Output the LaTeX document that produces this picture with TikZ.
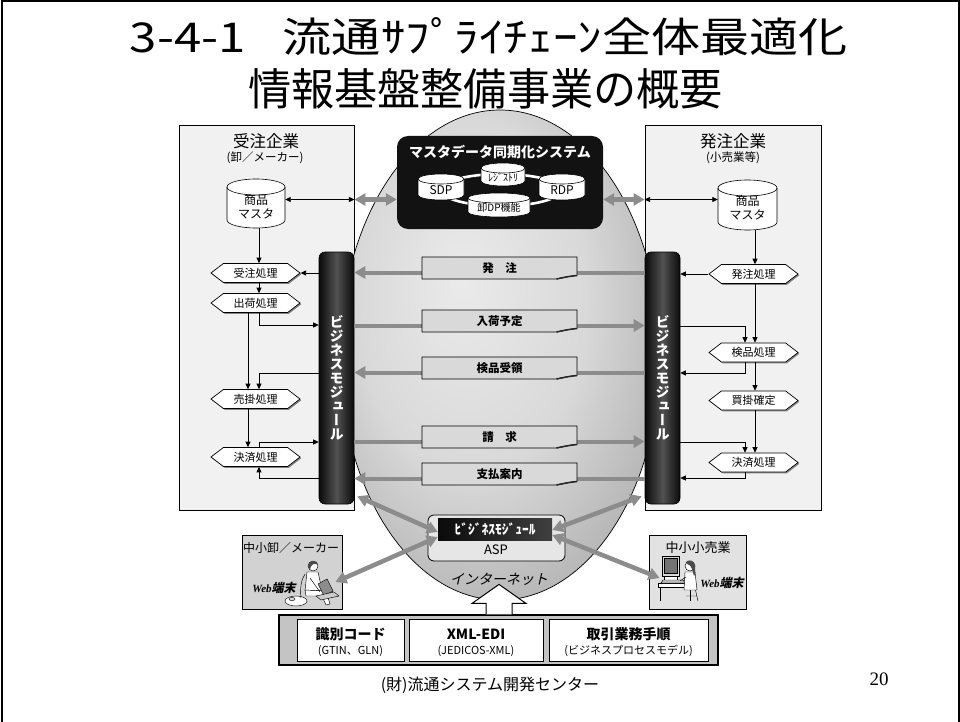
\documentclass[tikz,border=0pt]{standalone}
\usepackage{fontspec}
\usepackage{graphicx}
\setmainfont{Noto Sans CJK JP}
\newfontfamily\vertjp[RawFeature=+vert]{Noto Sans CJK JP}
\newfontfamily\slantjp[FakeSlant=0.22]{Noto Sans CJK JP}
\newfontfamily\serifrm{Liberation Serif}
\usetikzlibrary{arrows.meta,shapes.geometric,shapes.symbols,shadows,calc}

\definecolor{panelfill}{HTML}{F1F1F1}
\definecolor{msgfill}{HTML}{D9D9D9}
\definecolor{flowgray}{HTML}{8C8C8C}
\definecolor{aspfill}{HTML}{E6E6E6}
\definecolor{userfillA}{HTML}{D2D2D2}
\definecolor{userfillB}{HTML}{E2E2E2}
\definecolor{basefill}{HTML}{C4C4C4}

\newcommand{\fsz}[1]{\fontsize{#1}{#1}\selectfont}

% radial shading for the internet ellipse, light spot a little up and left
\pgfdeclareradialshading{netshade}{\pgfpoint{-6bp}{8bp}}{%
  color(0bp)=(black!8); color(18bp)=(black!15); color(40bp)=(black!38);
  color(52bp)=(black!52); color(70bp)=(black!56)}

\tikzset{
  panel/.style={draw=black, line width=0.9pt, fill=panelfill, inner sep=0pt},
  proc/.style={signal, signal to=west and east, signal pointer angle=75,
    draw=black, line width=0.7pt, fill=white, minimum width=89pt,
    minimum height=19pt, inner sep=0pt, font=\fsz{11},
    drop shadow={shadow xshift=1.3pt, shadow yshift=-1.3pt, fill=black, opacity=0.45}},
  flow/.style={draw=black, line width=0.8pt, -{Triangle[length=5.5pt,width=5pt]}},
  dflow/.style={draw=black, line width=0.8pt,
    {Triangle[length=5.5pt,width=5pt]}-{Triangle[length=5.5pt,width=5pt]}},
  grayto/.style={draw=flowgray, line width=4pt, -{Triangle[length=11pt,width=12pt]}},
  graydbl/.style={draw=flowgray, line width=4.5pt,
    {Triangle[length=11pt,width=12pt]}-{Triangle[length=11pt,width=12pt]}},
  modbar/.style={draw=black, line width=0.6pt, rounded corners=6pt,
    left color=black!96, right color=black!96, middle color=black!68,
    minimum width=35pt, minimum height=252pt, inner sep=0pt, text=white,
    align=center, font=\vertjp\bfseries\fontsize{14}{14}\selectfont},
  cylbody/.style={fill=white, draw=black, line width=0.6pt},
  cylline/.style={draw=black, line width=0.6pt},
  userbox/.style={draw=black, line width=0.8pt, inner sep=0pt, minimum height=74pt},
  subbox/.style={draw=black, line width=0.8pt, fill=white, inner sep=0pt, minimum height=42pt},
  figline/.style={draw=black, line width=0.45pt},
}

% database cylinder: name, x, y, width, height, cap radius, text, font
\newcommand{\dbcyl}[8]{%
  \begin{scope}[shift={(#2,#3)}]
    \filldraw[cylbody] (-#4/2,#5/2-#6) -- (-#4/2,-#5/2+#6)
      arc[start angle=180,end angle=360,x radius=#4/2,y radius=#6]
      -- (#4/2,#5/2-#6)
      arc[start angle=0,end angle=180,x radius=#4/2,y radius=#6] -- cycle;
    \draw[cylline] (-#4/2,#5/2-#6) arc[start angle=180,end angle=360,x radius=#4/2,y radius=#6];
  \end{scope}
  \node[inner sep=0pt, minimum width=#4pt, minimum height=#5pt] (#1) at (#2,#3) {};
  \node[font=#8, align=center, inner sep=0pt] at (#2,#3-3) {#7};
}

% message sheet with a curled lower right corner: name, y, text
\newcommand{\msgbox}[3]{%
  \begin{scope}[shift={(499.5,#2)}]
    \filldraw[fill=msgfill, draw=black, line width=0.8pt]
      (-77.5,11) -- (77.5,11) -- (77.5,-7.5)
      .. controls (71,-8) and (64,-9.5) .. (57,-11) -- (-77.5,-11) -- cycle;
    \draw[line width=1.5pt, black!85] (77.5,-7.5) .. controls (71,-8) and (64,-9.5) .. (57,-11);
  \end{scope}
  \node[inner sep=0pt, minimum width=155pt, minimum height=22pt,
        font=\bfseries\fsz{11.5}] (#1) at (499.5,#2) {#3};
}

\begin{document}
\begin{tikzpicture}[x=1pt,y=1pt]
\useasboundingbox (0,0) rectangle (960,-722);
\fill[white] (0,0) rectangle (960,-722);

% slide frame
\draw[line width=2pt] (1.5,-722) -- (1.5,-1.5) -- (958.5,-1.5) -- (958.5,-722);

% title
\node[inner sep=0pt] (title1) at (489,-36.5)
  {\resizebox{718pt}{35pt}{\fsz{44}3-4-1\hspace{0.75em}流通ｻﾌﾟﾗｲﾁｪｰﾝ全体最適化}};
\node[inner sep=0pt] (title2) at (485.5,-88.5)
  {\resizebox{475pt}{37pt}{\fsz{44}情報基盤整備事業の概要}};

% company panels
\node[panel, minimum width=175pt, minimum height=385pt] (lpanel) at (266.5,-317.5) {};
\node[panel, minimum width=176pt, minimum height=385pt] (rpanel) at (733,-317.5) {};
\node[font=\fsz{16.5}] (lhead) at (266,-141) {受注企業};
\node[font=\fsz{11.5}] (lsub) at (265,-158) {(卸／メーカー)};
\node[font=\fsz{16.5}] (rhead) at (733,-141) {発注企業};
\node[font=\fsz{11.5}] (rsub) at (733,-158) {(小売業等)};

% internet
\node[ellipse, draw=black, line width=0.7pt, shade, shading=netshade,
      minimum width=320pt, minimum height=490pt, inner sep=0pt] (net) at (500,-355) {};

% levels
\coordinate (Y0) at (0,-199.5);
\coordinate (L1) at (0,-272.5);
\coordinate (L2) at (0,-325.5);
\coordinate (L3) at (0,-372.5);
\coordinate (L4) at (0,-441.5);
\coordinate (L5) at (0,-478.5);

% business modules
\node[modbar] (lbar) at (336.5,-378) {ビ\\ジ\\ネ\\ス\\モ\\ジ\\ュ\\ー\\ル};
\node[modbar] (rbar) at (662.5,-378) {ビ\\ジ\\ネ\\ス\\モ\\ジ\\ュ\\ー\\ル};

% messages between the modules
\draw[grayto] (rbar.west |- L1) -- (lbar.east |- L1);
\draw[grayto] (lbar.east |- L2) -- (rbar.west |- L2);
\draw[grayto] (rbar.west |- L3) -- (lbar.east |- L3);
\draw[grayto] (lbar.east |- L4) -- (rbar.west |- L4);
\draw[grayto] (rbar.west |- L5) -- (lbar.east |- L5);
\msgbox{m1}{-268}{発　注}
\msgbox{m2}{-321}{入荷予定}
\msgbox{m3}{-368}{検品受領}
\msgbox{m4}{-437}{請　求}
\msgbox{m5}{-474}{支払案内}

% master data synchronisation system
\node[fill=black!93, rounded corners=11pt, minimum width=206pt, minimum height=93pt,
      inner sep=0pt] (mds) at (500,-182.5) {};
\node[text=white, font=\bfseries\fsz{14}] (mdstitle) at (500,-152) {マスタデータ同期化システム};
\draw[white, line width=2.6pt] (501,-190) ellipse[x radius=60, y radius=16];
\dbcyl{sdp}{441}{-187}{46}{26}{5}{SDP}{\fsz{12}}
\dbcyl{rdp}{562}{-187}{46}{26}{5}{RDP}{\fsz{12}}
\dbcyl{reg}{503}{-174.5}{44}{23}{5}{ﾚｼﾞｽﾄﾘ}{\fsz{10}}
\dbcyl{ddp}{499}{-205}{62}{24}{5}{卸DP機能}{\fsz{10}}

\draw[graydbl] (lpanel.east |- Y0) -- (mds.west |- Y0);
\draw[graydbl] (mds.east |- Y0) -- (rpanel.west |- Y0);

% product masters
\dbcyl{lcyl}{256}{-203.5}{58}{49}{8}{商品\\マスタ}{\fontsize{12}{14}\selectfont}
\dbcyl{rcyl}{747.5}{-205}{59}{50}{8}{商品\\マスタ}{\fontsize{12}{14}\selectfont}
\draw[dflow] (lcyl.east |- Y0) -- (lpanel.east |- Y0);
\draw[dflow] (rpanel.west |- Y0) -- (rcyl.west |- Y0);

% processes
\node[proc] (lp1) at (255.5,-273) {受注処理};
\node[proc] (lp2) at (255.5,-303) {出荷処理};
\node[proc] (lp3) at (255.5,-399) {売掛処理};
\node[proc] (lp4) at (255.5,-457) {決済処理};
\node[proc] (rp1) at (753.5,-274) {発注処理};
\node[proc] (rp2) at (753.5,-352.5) {検品処理};
\node[proc] (rp3) at (753.5,-400.5) {買掛確定};
\node[proc] (rp4) at (753.5,-462.5) {決済処理};

\coordinate (Lm) at (259,0);
\coordinate (Ls) at (248,0);
\coordinate (Rm) at (755,0);
\coordinate (Rs) at (745,0);
\coordinate (Ly1) at (0,-325);
\coordinate (Ly2) at (0,-373);
\coordinate (Ly3) at (0,-442);
\coordinate (Ly4) at (0,-478);
\coordinate (Ry1) at (0,-326);
\coordinate (Ry2) at (0,-373);
\coordinate (Ry3) at (0,-442);
\coordinate (Ry4) at (0,-478);

% order-receiving side
\draw[flow] (lcyl.south -| Lm) -- (lp1.north -| Lm);
\draw[flow] (lbar.west |- lp1.east) -- (lp1.east);
\draw[flow] (lp1.south -| Lm) -- (lp2.north -| Lm);
\draw[flow] (lp2.south -| Lm) |- (lbar.west |- Ly1);
\draw[flow] (lp2.south -| Ls) -- (lp3.north -| Ls);
\draw[flow] (lbar.west |- Ly2) -| (lp3.north -| Lm);
\draw[flow] (lp3.south -| Ls) -- (lp4.north -| Ls);
\draw[flow] (lp4.north -| Lm) |- (lbar.west |- Ly3);
\draw[flow] (lbar.west |- Ly4) -| (lp4.south -| Lm);

% ordering side
\draw[flow] (rcyl.south -| Rm) -- (rp1.north -| Rm);
\draw[flow] (rp1.west) -- (rbar.east |- rp1.west);
\draw[flow] (rp1.south -| Rm) -- (rp2.north -| Rm);
\draw[flow] (rbar.east |- Ry1) -| (rp2.north -| Rs);
\draw[flow] (rp2.south -| Rs) |- (rbar.east |- Ry2);
\draw[flow] (rp2.south -| Rm) -- (rp3.north -| Rm);
\draw[flow] (rp3.south -| Rm) -- (rp4.north -| Rm);
\draw[flow] (rbar.east |- Ry3) -| (rp4.north -| Rs);
\draw[flow] (rp4.south -| Rs) |- (rbar.east |- Ry4);

% ASP
\node[draw=black, line width=0.8pt, rounded corners=6pt, fill=aspfill,
      minimum width=137pt, minimum height=46pt, inner sep=0pt] (asp) at (496.5,-538) {};
\node[left color=black!96, right color=black!75, minimum width=114pt, minimum height=22pt,
      inner sep=0pt, text=white, font=\bfseries\fsz{13.5}] (aspmod) at (495,-529) {ﾋﾞｼﾞﾈｽﾓｼﾞｭｰﾙ};
\node[font=\fsz{13}] (asplabel) at (496,-550) {ASP};

% small wholesalers / makers
\node[userbox, fill=userfillA, minimum width=100pt] (uw) at (292,-572) {};
\node[font=\fsz{12}] (uwlabel) at (291,-548) {中小卸／メーカー};
\node (uwweb) at (274,-588) {{\serifrm\bfseries\itshape\fsz{11}Web}{\slantjp\bfseries\fsz{12}端末}};
% woman with a laptop
\filldraw[figline, fill=white] (296,-601) ellipse[x radius=11, y radius=5];
\filldraw[figline, fill=black!15] (292,-599) ellipse[x radius=3, y radius=1.6];
\draw[figline] (301,-598) .. controls (300,-588) and (301,-580) .. (305,-574);
\filldraw[figline, fill=white] (307,-572) -- (318,-572) -- (322,-590) -- (305,-591) -- cycle;
\filldraw[figline, fill=white] (305,-590) -- (326,-591) -- (330,-604) -- (326,-605) -- (322,-596) -- (306,-596) -- cycle;
\filldraw[figline, fill=white] (313,-566) circle[radius=5];
\fill[black!70] (308,-566) .. controls (308,-560) and (318,-559) .. (318,-565) .. controls (315,-563) and (311,-563) .. (310,-570) -- cycle;
\filldraw[figline, fill=black!45] (318,-584) -- (327,-579) -- (333,-591) -- (324,-596) -- cycle;
\filldraw[figline, fill=black!20] (316,-596) -- (334,-592) -- (339,-596) -- (321,-600) -- cycle;
\draw[figline] (310,-578) -- (320,-592);

% small retailers
\node[userbox, fill=userfillB, minimum width=97pt] (ur) at (697.5,-572) {};
\node[font=\fsz{13}] (urlabel) at (698,-548) {中小小売業};
\node (urweb) at (722,-583) {{\serifrm\bfseries\itshape\fsz{11}Web}{\slantjp\bfseries\fsz{12}端末}};
% person at a desktop computer
\filldraw[figline, fill=black!15] (662,-556) rectangle (679,-576);
\filldraw[figline, fill=black!55] (664,-558) rectangle (677,-573);
\filldraw[figline, fill=white] (664,-576) rectangle (677,-580);
\filldraw[figline, fill=white] (658,-583) rectangle (692,-587);
\draw[figline] (660,-587) -- (660,-601) (690,-587) -- (690,-601);
\filldraw[figline, fill=black!25] (663,-580) -- (683,-580) -- (685,-583) -- (661,-583) -- cycle;
\draw[figline] (695,-588) -- (698,-601) (686,-596) -- (697,-596);
\filldraw[figline, fill=white] (685,-572) -- (695,-572) -- (697,-590) -- (684,-590) -- cycle;
\draw[figline] (686,-577) -- (680,-581);
\filldraw[figline, fill=white] (690,-566) circle[radius=5];
\fill[black!70] (686,-562) .. controls (688,-559) and (695,-560) .. (695,-566) .. controls (695,-571) and (696,-574) .. (694,-576) .. controls (692,-570) and (692,-565) .. (687,-564) -- cycle;

% links to the ASP
\draw[graydbl] ($(lbar.south east)+(3,8)$) -- ($(aspmod.west)+(0,-3)$);
\draw[graydbl] ($(uw.east)+(-7,-10)$) -- ($(aspmod.west)+(0,-8)$);
\draw[graydbl] ($(rbar.south west)+(-3,8)$) -- ($(aspmod.east)+(0,-1)$);
\draw[graydbl] ($(ur.west)+(11,-6)$) -- ($(aspmod.east)+(0,-6)$);

% standards base
\node[draw=black, line width=1.2pt, fill=basefill, minimum width=439pt, minimum height=50pt,
      inner sep=0pt] (base) at (498.5,-640) {};
\node[subbox, minimum width=107pt] (b1) at (350.5,-640) {};
\node[subbox, minimum width=134pt] (b2) at (476,-640) {};
\node[subbox, minimum width=159pt] (b3) at (628.5,-640) {};
\node[font=\bfseries\fsz{14}] at ($(b1.center)+(0,6)$) {識別コード};
\node[font=\fsz{11}] at ($(b1.center)+(0,-11)$) {(GTIN、GLN)};
\node[font=\bfseries\fsz{14}] at ($(b2.center)+(0,6)$) {XML-EDI};
\node[font=\fsz{11}] at ($(b2.center)+(0,-11)$) {(JEDICOS-XML)};
\node[font=\bfseries\fsz{14}] at ($(b3.center)+(0,6)$) {取引業務手順};
\node[font=\fsz{11}] at ($(b3.center)+(0,-11)$) {(ビジネスプロセスモデル)};

% hollow arrow up to the internet
\draw[fill=white, line width=1pt] ($(base.north)+(-12.5,0)$) -- ($(base.north)+(-12.5,11)$)
  -- ($(base.north)+(-26.5,11)$) -- ($(base.north)+(0.5,30)$) -- ($(base.north)+(27.5,11)$)
  -- ($(base.north)+(13.5,11)$) -- ($(base.north)+(13.5,0)$);
\node[font=\slantjp\fsz{14}] (inet) at (499,-579) {インターネット};

% footer
\node[font=\fsz{16}] (source) at (490,-685) {(財)流通システム開発センター};
\node[font=\serifrm\fsz{19}] (pageno) at (879,-679) {20};
\end{tikzpicture}
\end{document}
